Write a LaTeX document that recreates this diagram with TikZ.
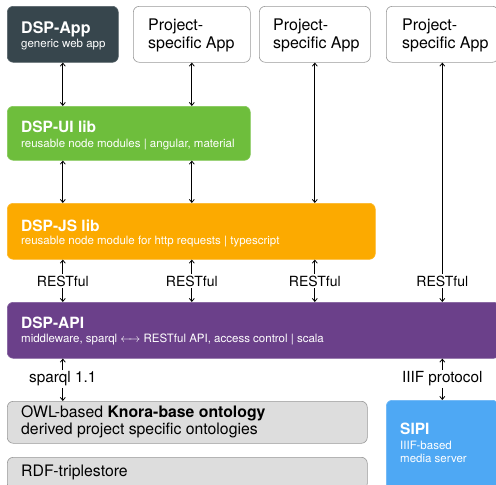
\documentclass[tikz,border=0pt]{standalone}
\usepackage{fontspec}
\setmainfont{TeX Gyre Heros}
\usetikzlibrary{arrows.meta}
\definecolor{appc}{RGB}{55,70,77}
\definecolor{uic}{RGB}{110,190,60}
\definecolor{jsc}{RGB}{252,170,0}
\definecolor{apic}{RGB}{107,64,138}
\definecolor{ontc}{RGB}{221,221,221}
\definecolor{sipic}{RGB}{78,168,244}
\begin{document}
\begin{tikzpicture}[x=1pt,y=-1pt,
  box/.style={draw,rounded corners=6pt,anchor=north west,inner sep=0pt,line width=0.6pt},
  appbox/.style={box,fill=appc,draw=appc!85!white},
  projbox/.style={box,fill=white,draw=black!40},
  uibox/.style={box,fill=uic,draw=uic!85!white},
  jsbox/.style={box,fill=jsc,draw=jsc!85!white},
  apibox/.style={box,fill=apic,draw=apic!85!white},
  ontbox/.style={box,fill=ontc,draw=black!40},
  sipibox/.style={box,fill=sipic,draw=sipic!85!white},
  ttl/.style={anchor=base west,inner sep=0pt,font=\fontsize{15.5}{17}\selectfont\bfseries,text=white},
  sub/.style={anchor=base west,inner sep=0pt,font=\fontsize{11.5}{13}\selectfont,text=white},
  big/.style={anchor=base west,inner sep=0pt,font=\fontsize{15.8}{18}\selectfont},
  prj/.style={anchor=base west,inner sep=0pt,font=\fontsize{16}{18}\selectfont},
  lbl/.style={inner sep=1.5pt,font=\fontsize{14}{16}\selectfont},
  lbb/.style={inner sep=1.5pt,font=\fontsize{15.3}{17}\selectfont},
  con/.style={line width=0.8pt,{Straight Barb[length=3pt,width=5pt]}-{Straight Barb[length=3pt,width=5pt]}},
  one/.style={line width=0.8pt,-{Straight Barb[length=3pt,width=5pt]}},
  bck/.style={line width=0.8pt,{Straight Barb[length=3pt,width=5pt]}-}
]
\useasboundingbox (0,0) rectangle (496,485);
% boxes
\node[appbox,minimum width=111pt,minimum height=56pt] (app) at (7,6) {};
\node[projbox,minimum width=117pt,minimum height=56pt] (p1) at (133,6) {};
\node[projbox,minimum width=111pt,minimum height=56pt] (p2) at (259,6) {};
\node[projbox,minimum width=112pt,minimum height=56pt] (p3) at (386,6) {};
\node[uibox,minimum width=243pt,minimum height=54pt] (ui) at (7,106) {};
\node[jsbox,minimum width=368pt,minimum height=56pt] (js) at (7,203) {};
\node[apibox,minimum width=492pt,minimum height=56pt] (api) at (7,302) {};
\node[ontbox,minimum width=360pt,minimum height=42pt] (ont) at (7,401) {};
\node[ontbox,minimum width=360pt,minimum height=32pt] (rdf) at (7,457) {};
\node[sipibox,minimum width=112pt,minimum height=90pt] (sipi) at (386,400) {};
% texts
\node[ttl,font=\fontsize{16}{18}\selectfont\bfseries] (appt) at (21,33) {DSP-App};
\node[sub] (apps) at (21,47) {generic web app};
\node[prj] (p1a) at (148,30) {Project-};
\node[prj] (p1b) at (148,48) {specific App};
\node[prj] (p2a) at (273,30) {Project-};
\node[prj] (p2b) at (273,48) {specific App};
\node[prj] (p3a) at (402,30) {Project-};
\node[prj] (p3b) at (402,48) {specific App};
\node[ttl] (uit) at (21,132) {DSP-UI lib};
\node[sub] (uis) at (21,147) {reusable node modules | angular, material};
\node[ttl] (jst) at (21,231) {DSP-JS lib};
\node[sub] (jss) at (21,244) {reusable node module for http requests | typescript};
\node[ttl] (apit) at (21,328) {DSP-API};
\node[sub] (apis) at (21,342) {middleware, sparql $\leftarrow\!\!\rightarrow$ RESTful API, access control | scala};
\node[big] (onta) at (21,417) {OWL-based \textbf{Knora-base ontology}};
\node[big] (ontb) at (21,434) {derived project specific ontologies};
\node[big] (rdft) at (21,476) {RDF-triplestore};
\node[ttl] (sipit) at (400,434) {SIPI};
\node[sub] (sipis) at (400,449) {IIIF-based};
\node[sub] (sipis2) at (400,462) {media server};
% labels
\node[lbl] (r1) at (app.south |- 0,281) {RESTful};
\node[lbl] (r2) at (p1.south |- 0,281) {RESTful};
\node[lbl] (r3) at (p2.south |- 0,281) {RESTful};
\node[lbl] (r4) at (p3.south |- 0,281) {RESTful};
\node[lbb] (sq) at (app.south |- 0,379) {sparql 1.1};
\node[lbb] (iiif) at (p3.south |- 0,379) {IIIF protocol};
% connectors
\draw[con] (app.south) -- (app.south |- ui.north);
\draw[con] (p1.south) -- (p1.south |- ui.north);
\draw[con] (app.south |- ui.south) -- (app.south |- js.north);
\draw[con] (p1.south |- ui.south) -- (p1.south |- js.north);
\draw[con] (p2.south) -- (p2.south |- js.north);
\draw[bck] (p3.south) -- (r4.north);
\foreach \r in {r1,r2,r3}{
  \draw[one] (\r.north) -- (\r.north |- js.south);
  \draw[one] (\r.south) -- (\r.south |- api.north);
}
\draw[one] (r4.south) -- (r4.south |- api.north);
\draw[one] (sq.north) -- (sq.north |- api.south);
\draw[one] (sq.south) -- (sq.south |- ont.north);
\draw[one] (iiif.north) -- (iiif.north |- api.south);
\draw[one] (iiif.south) -- (iiif.south |- sipi.north);
\end{tikzpicture}
\end{document}
